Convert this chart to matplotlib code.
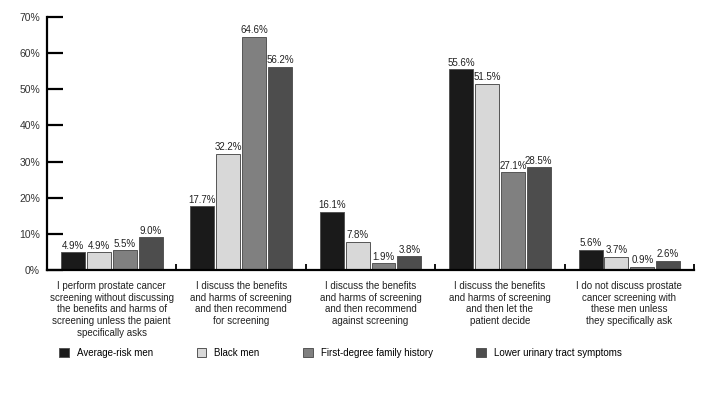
import matplotlib
matplotlib.use("Agg")
import matplotlib.pyplot as plt
import numpy as np
from matplotlib.patches import Patch

categorias = [
    "I perform prostate cancer\nscreening without discussing\nthe benefits and harms of\nscreening unless the paient\nspecifically asks",
    "I discuss the benefits\nand harms of screening\nand then recommend\nfor screening",
    "I discuss the benefits\nand harms of screening\nand then recommend\nagainst screening",
    "I discuss the benefits\nand harms of screening\nand then let the\npatient decide",
    "I do not discuss prostate\ncancer screening with\nthese men unless\nthey specifically ask",
]
series = ["Average-risk men", "Black men", "First-degree family history", "Lower urinary tract symptoms"]
media = [4.9, 17.7, 16.1, 55.6, 5.6]
negros = [4.9, 32.2, 7.8, 51.5, 3.7]
familia = [5.5, 64.6, 1.9, 27.1, 0.9]
urinario = [9.0, 56.2, 3.8, 28.5, 2.6]
valores = [media, negros, familia, urinario]
cores = ["#1a1a1a", "#d8d8d8", "#808080", "#4d4d4d"]

plt.rcParams['font.family'] = ['Liberation Sans', 'DejaVu Sans']
plt.rcParams['font.size'] = 7

fig = plt.figure(figsize=(7.17, 4.0), dpi=100)
ax = fig.add_axes([0.0656, 0.325, 0.9024, 0.6325])

x = np.arange(len(categorias))
passo = 0.2
larg = 0.185
for i, vals in enumerate(valores):
    pos = x + (i - 1.5) * passo
    barras = ax.bar(pos, vals, width=larg, color=cores[i], edgecolor="#555555", linewidth=0.7)
    ax.bar_label(barras, labels=[f"{v:.1f}%" for v in vals], padding=1, fontsize=7, color="#222222")

ax.set_xlim(-0.5, 4.5)
ax.set_ylim(0, 70)
ax.set_yticks(range(0, 71, 10))
ax.set_yticklabels([f"{v}%" for v in range(0, 71, 10)], fontsize=7.5, color="#333333")
ax.tick_params(axis='y', direction='in', length=11.5, width=1.6, pad=5)

ax.set_xticks(x)
ax.set_xticklabels(categorias, fontsize=7, linespacing=1.2, color="#222222")
ax.tick_params(axis='x', which='major', length=0, pad=8)
ax.set_xticks(np.arange(0.5, 5.0, 1.0), minor=True)
ax.tick_params(axis='x', which='minor', direction='in', length=4, width=1.3)

for lado in ['top', 'right']:
    ax.spines[lado].set_visible(False)
ax.spines['left'].set_linewidth(1.6)
ax.spines['bottom'].set_linewidth(1.6)

alcas = [Patch(facecolor=cores[i], edgecolor="#555555", linewidth=0.7) for i in range(4)]
fig.legend(alcas, series, loc='center', bbox_to_anchor=(0.475, 0.118), ncol=4, frameon=False,
           fontsize=7, handlelength=1.0, handleheight=1.0, columnspacing=4.5, handletextpad=0.8)

fig.savefig("out.png", dpi=100)
